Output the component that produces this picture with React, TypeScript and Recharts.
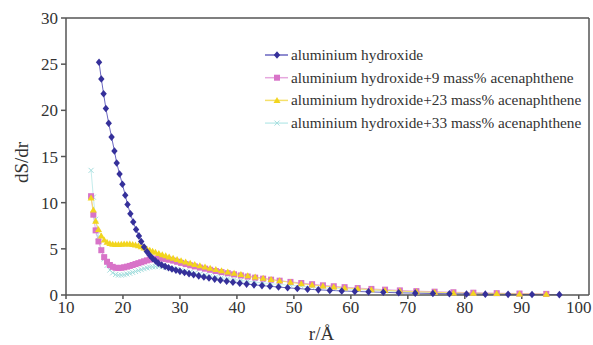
import { LineChart, Line, XAxis, YAxis, ReferenceLine, Legend } from "recharts";

const FONT = "Liberation Serif, Times New Roman, Times, DejaVu Serif, serif";

// r grid of the pure aluminium hydroxide sample
const rPure = [
  15.8, 16.2, 16.6, 17.0, 17.5, 18.0, 18.5, 18.9, 19.4, 19.9,
  20.4, 20.8, 21.3, 21.8, 22.3, 22.8, 23.2, 23.7, 24.2, 24.7,
  25.2, 25.7, 26.2, 26.8, 27.4, 28.0, 28.6, 29.3, 30.0, 30.8,
  31.6, 32.4, 33.3, 34.2, 35.1, 36.1, 37.1, 38.2, 39.3, 40.5,
  41.7, 43.0, 44.4, 45.8, 47.3, 48.9, 50.6, 52.4, 54.3, 56.3,
  58.4, 60.7, 63.1, 65.7, 68.4, 71.3, 74.4, 77.3, 80.3, 83.6,
  87.6, 91.8, 96.6,
];
const pure = [
  25.2, 23.4, 21.8, 20.2, 18.6, 17.1, 15.6, 14.3, 13.1, 12.0,
  10.8, 9.8, 8.8, 7.9, 7.1, 6.4, 5.8, 5.2, 4.7, 4.3,
  3.95, 3.7, 3.45, 3.25, 3.1, 2.95, 2.82, 2.68, 2.56, 2.43,
  2.31, 2.19, 2.07, 1.95, 1.84, 1.72, 1.6, 1.49, 1.38, 1.27,
  1.18, 1.1, 1.02, 0.94, 0.86, 0.78, 0.7, 0.63, 0.56, 0.5,
  0.44, 0.39, 0.34, 0.29, 0.24, 0.2, 0.16, 0.13, 0.11, 0.09,
  0.07, 0.05, 0.04,
];

// r grid of the acenaphthene samples
const rMix = [
  14.4, 14.8, 15.2, 15.7, 16.2, 16.7, 17.2, 17.7, 18.2, 18.7,
  19.2, 19.7, 20.2, 20.7, 21.2, 21.7, 22.2, 22.7, 23.2, 23.7,
  24.2, 24.7, 25.2, 25.7, 26.3, 26.9, 27.5, 28.1, 28.8, 29.5,
  30.2, 31.0, 31.8, 32.6, 33.5, 34.4, 35.3, 36.3, 37.3, 38.4,
  39.5, 40.7, 41.9, 43.2, 44.6, 46.0, 47.5, 49.4, 51.3, 53.2,
  55.1, 57.0, 58.9, 61.2, 63.6, 66.0, 68.6, 71.5, 74.7, 78.0,
  81.5, 85.6, 89.6, 94.3,
];
const mass9 = [
  10.7, 8.7, 7.0, 5.8, 4.85, 4.1, 3.6, 3.25, 3.05, 2.95,
  2.92, 2.95, 3.0, 3.07, 3.15, 3.25, 3.35, 3.45, 3.55, 3.65,
  3.75, 3.83, 3.9, 3.95, 3.97, 3.95, 3.9, 3.82, 3.72, 3.6,
  3.48, 3.35, 3.22, 3.1, 2.97, 2.85, 2.73, 2.6, 2.48, 2.36,
  2.24, 2.12, 2.0, 1.88, 1.77, 1.66, 1.55, 1.42, 1.3, 1.17,
  1.05, 0.95, 0.85, 0.75, 0.66, 0.58, 0.5, 0.42, 0.36, 0.3,
  0.25, 0.2, 0.16, 0.12,
];
const mass23 = [
  10.5, 9.2, 8.0, 7.1, 6.4, 5.95, 5.7, 5.57, 5.5, 5.47,
  5.47, 5.5, 5.52, 5.53, 5.52, 5.48, 5.42, 5.33, 5.22, 5.1,
  4.98, 4.86, 4.75, 4.63, 4.5, 4.37, 4.25, 4.12, 3.98, 3.85,
  3.72, 3.58, 3.44, 3.31, 3.17, 3.03, 2.9, 2.76, 2.63, 2.49,
  2.36, 2.22, 2.09, 1.96, 1.82, 1.68, 1.53, 1.37, 1.22, 1.09,
  0.97, 0.87, 0.77, 0.67, 0.58, 0.5, 0.42, 0.35, 0.29, 0.23,
  0.19, 0.15, 0.11, 0.08,
];
const mass33 = [
  13.5, 10.6, 8.2, 6.3, 4.9, 3.9, 3.2, 2.7, 2.4, 2.22,
  2.15, 2.15, 2.2, 2.27, 2.35, 2.45, 2.55, 2.65, 2.75, 2.85,
  2.93, 3.0, 3.05, 3.08, 3.08, 3.05, 3.0, 2.93, 2.85, 2.77,
  2.68, 2.58, 2.48, 2.38, 2.28, 2.18, 2.08, 1.98, 1.88, 1.78,
  1.68, 1.58, 1.49, 1.4, 1.31, 1.22, 1.14, 1.05, 0.96, 0.88,
  0.8, 0.73, 0.66, 0.59, 0.52, 0.45, 0.39, 0.33, 0.28, 0.23,
  0.19, 0.15, 0.12, 0.09,
];

const xTicks = [10, 20, 30, 40, 50, 60, 70, 80, 90, 100];
const yTicks = [0, 5, 10, 15, 20, 25, 30];

const names = [
  "aluminium hydroxide",
  "aluminium hydroxide+9 mass% acenaphthene",
  "aluminium hydroxide+23 mass% acenaphthene",
  "aluminium hydroxide+33 mass% acenaphthene",
];

const toRows = (rs: number[], vs: number[]) => rs.map((r, i) => ({ r, v: vs[i] }));

const Marker = ({ shape, cx, cy, color }: { shape: string; cx: number; cy: number; color: string }) => {
  if (shape === "diamond")
    return <path d={`M${cx},${cy - 3.8}L${cx + 3.2},${cy}L${cx},${cy + 3.8}L${cx - 3.2},${cy}Z`} fill={color} />;
  if (shape === "square") return <rect x={cx - 3} y={cy - 3} width={6} height={6} fill={color} />;
  if (shape === "triangle")
    return <path d={`M${cx},${cy - 3.5}L${cx + 3.5},${cy + 2.5}L${cx - 3.5},${cy + 2.5}Z`} fill={color} />;
  return (
    <path
      d={`M${cx - 2.5},${cy - 2.5}L${cx + 2.5},${cy + 2.5}M${cx + 2.5},${cy - 2.5}L${cx - 2.5},${cy + 2.5}`}
      stroke={color}
      strokeWidth={1}
    />
  );
};

// drawing order: light ones first, pure sample on top
const series = [
  { name: names[3], data: toRows(rMix, mass33), shape: "cross", color: "#a4dede", line: "#c4ecec" },
  { name: names[1], data: toRows(rMix, mass9), shape: "square", color: "#d873c8", line: "#e6a8de" },
  { name: names[2], data: toRows(rMix, mass23), shape: "triangle", color: "#f2d51e", line: "#f5e06a" },
  { name: names[0], data: toRows(rPure, pure), shape: "diamond", color: "#35309a", line: "#6a66c0" },
];

const legendOrder = [3, 1, 2, 0];

const LegendBox = () => (
  <svg width={335} height={90}>
    {legendOrder.map((si, i) => {
      const s = series[si];
      const y = 9 + i * 22.7;
      return (
        <g key={s.name}>
          <line x1={5} x2={28} y1={y} y2={y} stroke={s.line} strokeWidth={1.5} />
          <Marker shape={s.shape} cx={17} cy={y} color={s.color} />
          <text x={31} y={y} dy="0.33em" fontFamily={FONT} fontSize={15.3} fill="#333">
            {s.name}
          </text>
        </g>
      );
    })}
  </svg>
);

export default function App() {
  return (
    <div style={{ position: "absolute", left: 0, top: 0, fontFamily: FONT }}>
      <LineChart width={593} height={345} margin={{ top: 18, right: 4, bottom: 0, left: 0 }}>
        <XAxis
          type="number"
          dataKey="r"
          domain={[10, 101.8]}
          ticks={xTicks}
          height={50}
          stroke="#555"
          strokeWidth={1.5}
          tickSize={4}
          tickMargin={2}
          tick={{ fill: "#333", fontFamily: FONT, fontSize: 17 }}
          label={({ viewBox }: any) => (
            <text
              x={viewBox.x + viewBox.width / 2 - 6}
              y={viewBox.y + 45}
              textAnchor="middle"
              fontFamily={FONT}
              fontSize={19}
              fill="#333"
            >
              r/Å
            </text>
          )}
        />
        <YAxis
          type="number"
          domain={[0, 30]}
          ticks={yTicks}
          width={66}
          stroke="#555"
          strokeWidth={1.5}
          tickSize={5}
          tickMargin={3}
          tick={{ fill: "#333", fontFamily: FONT, fontSize: 17 }}
          label={({ viewBox }: any) => {
            const x = viewBox.x + 21;
            const y = viewBox.y + viewBox.height / 2 + 6;
            return (
              <text
                x={x}
                y={y}
                transform={`rotate(-90 ${x} ${y})`}
                textAnchor="middle"
                dominantBaseline="central"
                fontFamily={FONT}
                fontSize={19}
                fill="#333"
              >
                dS/dr
              </text>
            );
          }}
        />
        <ReferenceLine y={30} stroke="#555" strokeWidth={1.5} />
        <ReferenceLine x={101.8} stroke="#555" strokeWidth={1.5} />
        {series.map((s) => (
          <Line
            key={s.name}
            name={s.name}
            data={s.data}
            dataKey="v"
            type="linear"
            stroke={s.line}
            strokeWidth={1}
            isAnimationActive={false}
            dot={(p: any) => (
              <Marker key={`${s.shape}-${p.index}`} shape={s.shape} cx={p.cx} cy={p.cy} color={s.color} />
            )}
            activeDot={false}
          />
        ))}
        <Legend
          layout="vertical"
          align="center"
          verticalAlign="middle"
          content={() => <LegendBox />}
          wrapperStyle={{ left: 260, top: 46, width: 335, height: 90 }}
        />
      </LineChart>
    </div>
  );
}
